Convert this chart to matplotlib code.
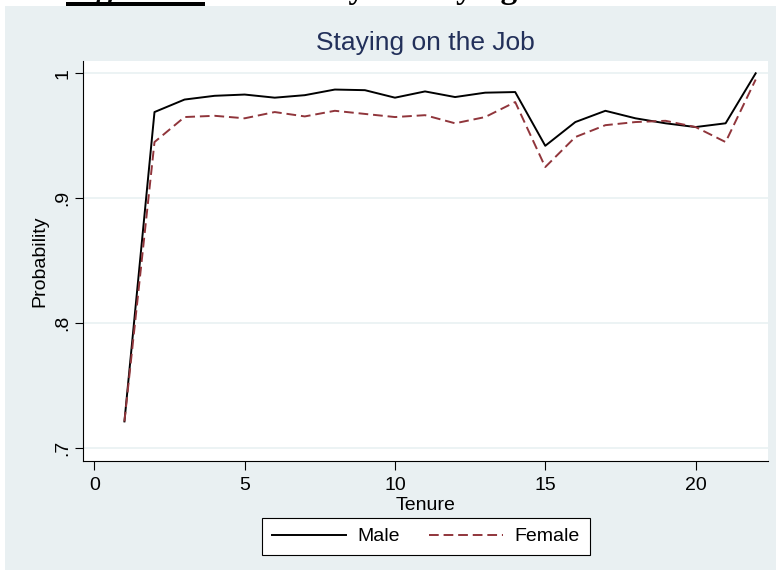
import matplotlib
matplotlib.use('Agg')
import matplotlib.pyplot as plt
from matplotlib.patches import Rectangle

plt.rcParams['font.family'] = ['Liberation Sans', 'DejaVu Sans']

tenure = list(range(1, 23))
male = [0.7215, 0.969, 0.979, 0.982, 0.983, 0.9805, 0.9825, 0.987, 0.9865, 0.9805, 0.9855,
        0.981, 0.9845, 0.985, 0.942, 0.961, 0.970, 0.964, 0.960, 0.957, 0.960, 1.0]
female = [0.7215, 0.945, 0.965, 0.966, 0.964, 0.969, 0.9655, 0.970, 0.9675, 0.965, 0.9665,
          0.960, 0.965, 0.977, 0.925, 0.949, 0.9585, 0.961, 0.962, 0.957, 0.945, 0.995]
xticks = [0, 5, 10, 15, 20]
yticks = [0.7, 0.8, 0.9, 1.0]
ylabels = ['.7', '.8', '.9', '1']

W, H = 779, 570
bg = '#E9F0F2'
grid_c = '#EAF2F3'
maroon = '#90353B'
navy = '#22305A'

fig = plt.figure(figsize=(W / 100, H / 100), dpi=100, facecolor='white')

# stata-style graph region
fig.patches.append(Rectangle((5 / W, 0), (776 - 5) / W, 564 / H, transform=fig.transFigure,
                             facecolor=bg, edgecolor='none', zorder=-10))

# caption line from the document, cut off at the top edge
fig.text(66 / W, 1 + 2 / H, 'Figure 5: Probability of Staying on the Job', family='Liberation Serif',
         weight='bold', fontsize=24, va='baseline', ha='left', color='black')
fig.patches.append(Rectangle((66 / W, (H - 6) / H), (205 - 66) / W, 4 / H, transform=fig.transFigure,
                             facecolor='black', edgecolor='none'))

ax = fig.add_axes([82.5 / W, 109 / H, (768 - 82.5) / W, 400 / H])
ax.set_facecolor('white')

ax.plot(tenure, male, color='black', lw=1.4, label='Male', zorder=3)
ax.plot(tenure, female, color=maroon, lw=1.4, linestyle=(0, (5, 2.5)), label='Female', zorder=3)

ax.set_xlim(-0.395, 22.41)
ax.set_ylim(0.68984, 1.00984)
ax.set_xticks(xticks)
ax.set_yticks(yticks)
ax.set_yticklabels(ylabels, rotation=90, va='center')

ax.grid(axis='y', color=grid_c, lw=1.3)
ax.set_axisbelow(True)
for s in ['top', 'right']:
    ax.spines[s].set_visible(False)
for s in ['left', 'bottom']:
    ax.spines[s].set_linewidth(0.8)

ax.tick_params(axis='x', direction='out', length=6.5, width=0.8, labelsize=14, pad=5)
ax.tick_params(axis='y', direction='out', length=6, width=0.8, labelsize=14, pad=2)

ax.set_xlabel('Tenure', fontsize=14, labelpad=2)
ax.set_ylabel('Probability', fontsize=14, labelpad=4)

fig.text(425 / W, 1 - 50 / H, 'Staying on the Job', fontsize=19, color=navy,
         ha='center', va='baseline')

leg = ax.legend(loc='center', bbox_to_anchor=(426 / W, (H - 536.5) / H),
                bbox_transform=fig.transFigure, ncol=2, fontsize=14, frameon=True,
                fancybox=False, edgecolor='black', framealpha=1, handlelength=3.8,
                handletextpad=0.6, columnspacing=1.5, borderpad=0.5)
leg.get_frame().set_linewidth(0.8)

fig.savefig('out.png', dpi=100, facecolor='white')
